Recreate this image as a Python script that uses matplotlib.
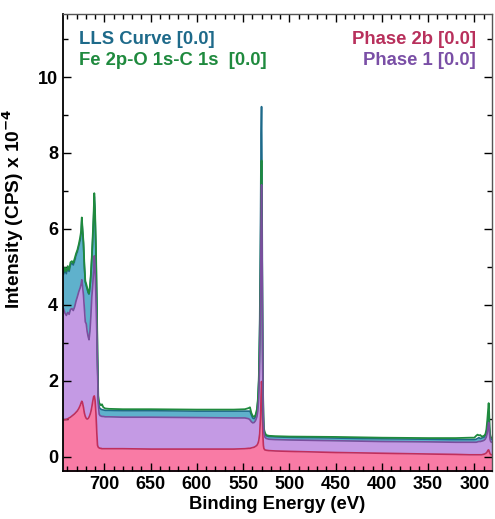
import matplotlib
matplotlib.use("Agg")
import matplotlib.pyplot as plt
from matplotlib.ticker import MultipleLocator

plt.rcParams['font.family'] = ['Liberation Sans', 'DejaVu Sans']
plt.rcParams['font.weight'] = 'bold'

# Binding energy (eV)
energy = [745, 744, 742.5, 741, 739.5, 738, 736.5, 735, 733.5, 732,
          730.5, 729, 727.5, 726, 725, 724.3, 723.5, 722.5, 721.5, 720.5,
          719.5, 718.5, 717.5, 716.5, 715.5, 714.5, 713.5, 712.5, 711.5, 710.8,
          710, 709, 708, 707.3, 706.5, 705.5, 704.5, 703.5, 702.5, 701,
          699, 695, 680, 650, 600, 560, 548, 544, 542.5, 541,
          539.5, 538, 536.5, 535, 534, 533, 532, 531, 530.5, 530,
          529.5, 529, 528.5, 528, 527.5, 526.5, 525, 522, 515, 500,
          450, 400, 350, 320, 305, 300, 298, 296.5, 295, 293.5,
          292, 290.5, 289, 288, 287, 286, 285.2, 284.5, 284, 283.5,
          283, 282.3, 281.5, 280]

# Phase 2b (bottom component), x 10^4 CPS
phase2b = [0.98, 0.97, 0.97, 0.98, 1.0, 1.02, 1.04, 1.07, 1.1, 1.13,
           1.17, 1.21, 1.27, 1.35, 1.42, 1.46, 1.42, 1.3, 1.15, 1.06,
           1.01, 0.99, 1.0, 1.04, 1.1, 1.18, 1.3, 1.45, 1.58, 1.6,
           1.5, 1.15, 0.6, 0.3, 0.25, 0.23, 0.22, 0.22, 0.21, 0.21,
           0.21, 0.21, 0.21, 0.2, 0.2, 0.2, 0.21, 0.22, 0.22, 0.23,
           0.24, 0.25, 0.27, 0.3, 0.34, 0.42, 0.6, 1.1, 1.6, 1.98,
           1.8, 1.1, 0.55, 0.3, 0.22, 0.18, 0.17, 0.16, 0.15, 0.14,
           0.11, 0.09, 0.07, 0.06, 0.05, 0.05, 0.05, 0.05, 0.05, 0.05,
           0.05, 0.06, 0.07, 0.08, 0.1, 0.13, 0.17, 0.18, 0.15, 0.11,
           0.08, 0.06, 0.05, 0.05]

# Phase 1 stacked on top of Phase 2b
phase1_top = [3.82, 3.9, 3.78, 3.72, 3.8, 3.75, 3.88, 3.9, 3.85, 3.95,
              4.1, 4.22, 4.35, 4.45, 4.55, 4.66, 4.5, 4.26, 3.9, 3.55,
              3.5, 3.3, 3.17, 3.08, 3.3, 3.7, 4.2, 4.5, 4.9, 5.29,
              5.0, 4.2, 3.2, 2.3, 1.4, 1.12, 1.08, 1.07, 1.06, 1.06,
              1.05, 1.05, 1.04, 1.04, 1.03, 1.02, 1.02, 1.0, 0.97, 0.92,
              0.89, 0.9, 0.95, 1.05, 1.2, 1.55, 2.5, 4.5, 6.2, 7.16,
              6.0, 3.6, 1.8, 0.95, 0.65, 0.52, 0.48, 0.46, 0.45, 0.44,
              0.42, 0.4, 0.39, 0.38, 0.38, 0.38, 0.38, 0.39, 0.4, 0.4,
              0.41, 0.42, 0.44, 0.47, 0.52, 0.62, 0.78, 0.9, 0.8, 0.58,
              0.46, 0.4, 0.38, 0.38]

# LLS fit curve
lls = [4.95, 4.8, 4.9, 4.82, 4.95, 4.88, 5.05, 5.1, 5.05, 5.15,
       5.3, 5.4, 5.55, 5.7, 5.9, 6.25, 5.95, 5.6, 5.0, 4.6,
       4.5, 4.42, 4.32, 4.28, 4.45, 4.75, 5.2, 5.7, 6.3, 6.85,
       6.4, 5.4, 3.9, 2.6, 1.5, 1.3, 1.27, 1.25, 1.24, 1.23,
       1.22, 1.22, 1.21, 1.21, 1.2, 1.2, 1.2, 1.2, 1.2, 1.1,
       1.02, 1.0, 1.05, 1.2, 1.45, 2.0, 3.5, 6.5, 8.5, 9.22,
       7.2, 4.2, 2.0, 1.05, 0.72, 0.6, 0.55, 0.53, 0.52, 0.51,
       0.49, 0.47, 0.46, 0.45, 0.45, 0.45, 0.46, 0.48, 0.5, 0.48,
       0.49, 0.5, 0.52, 0.56, 0.64, 0.8, 1.0, 1.15, 1.0, 0.7,
       0.55, 0.48, 0.46, 0.45]

# measured spectrum (Fe 2p-O 1s-C 1s)
data = [5.02, 4.85, 4.98, 4.88, 5.02, 4.92, 5.12, 5.15, 5.1, 5.22,
        5.35, 5.45, 5.6, 5.78, 5.95, 6.3, 6.0, 5.65, 5.05, 4.62,
        4.55, 4.45, 4.35, 4.3, 4.5, 4.8, 5.25, 5.8, 6.4, 6.94,
        6.5, 5.5, 4.0, 2.7, 1.6, 1.42, 1.38, 1.35, 1.38, 1.3,
        1.27, 1.26, 1.25, 1.25, 1.24, 1.24, 1.25, 1.28, 1.3, 1.15,
        1.07, 1.05, 1.1, 1.25, 1.5, 2.0, 3.2, 5.0, 6.8, 7.8,
        5.6, 3.6, 1.9, 1.15, 0.75, 0.64, 0.57, 0.55, 0.54, 0.53,
        0.52, 0.5, 0.49, 0.49, 0.5, 0.5, 0.55, 0.58, 0.56, 0.57,
        0.53, 0.54, 0.56, 0.6, 0.7, 0.95, 1.2, 1.41, 1.2, 0.8,
        0.6, 0.52, 0.5, 0.49]

labels_left = ["LLS Curve [0.0]", "Fe 2p-O 1s-C 1s  [0.0]"]
labels_right = ["Phase 2b [0.0]", "Phase 1 [0.0]"]

# kolory
pink_fill, pink_line = '#f97ba5', '#c02f5c'
purple_fill, purple_line = '#c49ae4', '#7a4f9e'
teal_fill, teal_line = '#5fb1cc', '#1e6a8a'
green_line = '#1f8a3e'

fig = plt.figure(figsize=(4.95, 5.19), dpi=100)
ax = fig.add_axes([0.1273, 0.0925, 0.8666, 0.8805])

ax.fill_between(energy, -1, phase2b, color=pink_fill, lw=0)
ax.fill_between(energy, phase2b, phase1_top, color=purple_fill, lw=0)
ax.fill_between(energy, phase1_top, lls, color=teal_fill, lw=0)
ax.plot(energy, phase2b, color=pink_line, lw=1.2)
ax.plot(energy, lls, color=teal_line, lw=1.2)
ax.plot(energy, data, color=green_line, lw=1.3)
ax.plot(energy, phase1_top, color=purple_line, lw=1.2)

ax.set_xlim(744.6, 280.9)
ax.set_ylim(-0.377, 11.66)

ax.xaxis.set_major_locator(MultipleLocator(50))
ax.xaxis.set_minor_locator(MultipleLocator(10))
ax.yaxis.set_major_locator(MultipleLocator(2))
ax.yaxis.set_minor_locator(MultipleLocator(1))
ax.tick_params(which='both', direction='in', top=True, right=True,
               labelsize=13, width=1.0, color='black')
ax.tick_params(which='major', length=6)
ax.tick_params(which='minor', length=3.5)
for lab in ax.get_xticklabels() + ax.get_yticklabels():
    lab.set_fontweight('bold')

for side in ['left', 'bottom']:
    ax.spines[side].set_linewidth(1.3)
    ax.spines[side].set_color('black')
for side in ['top', 'right']:
    ax.spines[side].set_linewidth(1.0)
    ax.spines[side].set_color('#555555')

ax.set_xlabel("Binding Energy (eV)", fontsize=13.3, fontweight='bold', labelpad=2)
ax.set_ylabel("Intensity (CPS) x 10$^{\\mathbf{-4}}$", fontsize=13.8,
              fontweight='bold')
ax.yaxis.set_label_coords(-0.086, 0.575)

# legenda jako tekst
ax.text(0.038, 0.944, labels_left[0], transform=ax.transAxes, color=teal_line,
        fontsize=13.3, fontweight='bold', va='center', ha='left')
ax.text(0.038, 0.898, labels_left[1], transform=ax.transAxes, color=green_line,
        fontsize=13.3, fontweight='bold', va='center', ha='left')
ax.text(0.963, 0.944, labels_right[0], transform=ax.transAxes, color='#b8305c',
        fontsize=13.3, fontweight='bold', va='center', ha='right')
ax.text(0.963, 0.898, labels_right[1], transform=ax.transAxes, color='#7a4fa6',
        fontsize=13.3, fontweight='bold', va='center', ha='right')

fig.savefig("out.png", dpi=100)
